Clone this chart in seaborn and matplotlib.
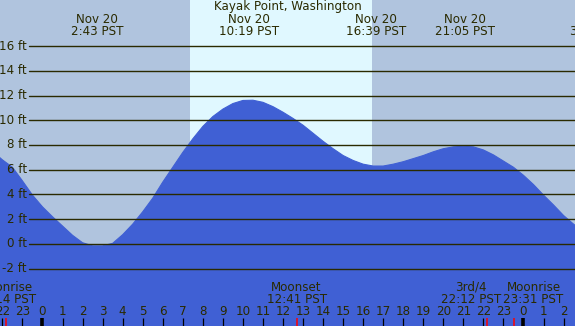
import numpy as np
import pandas as pd
import matplotlib
matplotlib.use("Agg")
import matplotlib.pyplot as plt
import matplotlib.transforms as mtransforms
import seaborn as sns

# tide height (ft) read every half hour, hours relative to midnight Nov 20 PST
hours = [-2.5, -2.0, -1.5, -1.0, -0.5, 0.0, 0.5, 1.0, 1.5, 2.0, 2.5, 3.0, 3.5,
         4.0, 4.5, 5.0, 5.5, 6.0, 6.5, 7.0, 7.5, 8.0, 8.5, 9.0, 9.5, 10.0,
         10.5, 11.0, 11.5, 12.0, 12.5, 13.0, 13.5, 14.0, 14.5, 15.0, 15.5,
         16.0, 16.5, 17.0, 17.5, 18.0, 18.5, 19.0, 19.5, 20.0, 20.5, 21.0,
         21.5, 22.0, 22.5, 23.0, 23.5, 24.0, 24.5, 25.0, 25.5, 26.0, 26.5, 27.0]
heights = [7.5, 6.8, 6.2, 5.1, 3.95, 3.0, 2.2, 1.45, 0.7, 0.1, -0.15, -0.15,
           0.05, 0.75, 1.6, 2.6, 3.7, 5.0, 6.2, 7.4, 8.5, 9.5, 10.3, 10.9,
           11.35, 11.6, 11.62, 11.45, 11.1, 10.65, 10.15, 9.6, 8.95, 8.3, 7.7,
           7.15, 6.75, 6.45, 6.3, 6.3, 6.45, 6.65, 6.9, 7.15, 7.45, 7.7, 7.85,
           7.9, 7.85, 7.6, 7.2, 6.7, 6.2, 5.55, 4.8, 3.95, 3.15, 2.3, 1.6, 1.0]

# high / low tide labels along the top
extreme_hours = [2.72, 10.32, 16.65, 21.08, 27.65]
extreme_labels = ["Nov 20\n2:43 PST", "Nov 20\n10:19 PST", "Nov 20\n16:39 PST",
                  "Nov 20\n21:05 PST", "Nov 21\n3:39 PST"]

# moon events along the bottom
moon_hours = [-1.82, 12.68, 22.2, 23.52]
moon_labels = ["Moonrise\n22:14 PST", "Moonset\n12:41 PST", "3rd/4\n22:12 PST",
               "Moonrise\n23:31 PST"]
# labels nudged sideways so neighbours don't collide
moon_label_shift = [0.0, 0.0, -0.82, 0.98]

sunrise, sunset = 7.36, 16.45
grid_ft = [-2, 0, 2, 4, 6, 8, 10, 12, 14, 16]
hour_ticks = list(range(-2, 27))

title = "Kayak Point, Washington"

NIGHT = "#b0c4de"
DAY = "#e0f8ff"
WATER = "#4060d4"
INK = "#2a2a00"
FS = 8.6

sns.set_theme(style="white")
plt.rcParams["font.family"] = ["DejaVu Sans"]

df = pd.DataFrame({"hour": hours, "height": heights})

fig = plt.figure(figsize=(5.75, 3.26), dpi=100)
ax = fig.add_axes([0, 0, 1, 1])
x0, x1 = -2.12, 26.57
ax.set_xlim(x0, x1)
ax.set_ylim(-6.63, 19.72)
ax.set_facecolor(NIGHT)
ax.axvspan(sunrise, sunset, color=DAY, lw=0, zorder=0)

ax.fill_between(df["hour"], df["height"], -10, color=WATER, lw=0, zorder=1)
sns.lineplot(data=df, x="hour", y="height", color=WATER, lw=0.8, ax=ax, zorder=2)

# horizontal grid lines with ft labels
x_start = x0 + 29 / 575 * (x1 - x0)
x_lab = x0 + 27 / 575 * (x1 - x0)
for g in grid_ft:
    ax.plot([x_start, x1], [g, g], color=INK, lw=1.0, zorder=3)
    ax.text(x_lab, g, f"{g} ft", ha="right", va="center", fontsize=FS,
            color=INK, zorder=4)

trans = mtransforms.blended_transform_factory(ax.transData, ax.transAxes)

ax.text(0.5, 0.979, title, transform=ax.transAxes, ha="center", va="center",
        fontsize=FS, color=INK)
for h, lab in zip(extreme_hours, extreme_labels):
    ax.text(h, 0.923, lab, transform=trans, ha="center", va="center",
            fontsize=FS, color=INK, linespacing=0.92)

for h, lab, dx in zip(moon_hours, moon_labels, moon_label_shift):
    ax.text(h + dx, 0.1, lab, transform=trans, ha="center", va="center",
            fontsize=FS, color=INK, linespacing=0.92)
    ax.plot([h, h], [0, 0.025], transform=trans, color="#ff0000", lw=1.1,
            zorder=5, solid_capstyle="butt")

for h in hour_ticks:
    ax.text(h, 0.045, str(h % 24), transform=trans, ha="center", va="center",
            fontsize=FS, color=INK)
    ax.plot([h, h], [0, 0.025], transform=trans, color="black",
            lw=2.6 if h % 24 == 0 else 0.9, zorder=4, solid_capstyle="butt")

ax.set_xlabel("")
ax.set_ylabel("")
ax.set_xticks([])
ax.set_yticks([])
for s in ax.spines.values():
    s.set_visible(False)

fig.savefig("out.png", dpi=100)
